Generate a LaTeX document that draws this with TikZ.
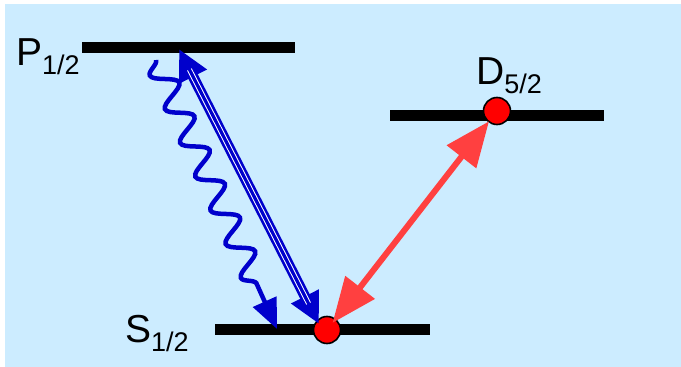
\documentclass[tikz,border=0pt]{standalone}
\usepackage{fontspec}
\setmainfont{Liberation Sans}
\usetikzlibrary{arrows.meta,decorations.pathmorphing}

\definecolor{skyblue}{RGB}{204,236,255}
\definecolor{laserblue}{RGB}{0,0,204}
\definecolor{laserred}{RGB}{255,64,64}
\definecolor{ionred}{RGB}{255,0,0}

\newcommand{\lvl}[2]{#1\raisebox{-9pt}{\fontsize{27}{27}\selectfont #2}}

\begin{document}
\begin{tikzpicture}[
  x=1pt, y=-1pt,
  level/.style={draw=black, line width=11pt},
  lbl/.style={font=\fontsize{39}{39}\selectfont, anchor=base west, inner sep=0pt},
  ion/.style={circle, draw=black, line width=1.6pt, fill=ionred, minimum size=27pt, inner sep=0pt},
  redarrow/.style={draw=laserred, line width=6pt,
    {Triangle[length=45pt,width=36pt]}-{Triangle[length=45pt,width=36pt]}},
  pumparrow/.style={draw=laserblue, line width=10.5pt,
    {Triangle[length=31pt,width=29pt]}-{Triangle[length=31pt,width=29pt]}},
  wave/.style={draw=laserblue, line width=4.5pt, -{Triangle[length=30pt,width=25pt]},
    decorate, decoration={snake, mirror, amplitude=12pt, segment length=37pt, post length=32pt}}
]

% Background
\useasboundingbox (0,0) rectangle (681,367);
\fill[skyblue] (5,4) rectangle (681,367);

% Levels
\coordinate (P-w) at (82,47);
\coordinate (P-e) at (295,47);
\coordinate (D-w) at (390,115);
\coordinate (D-e) at (604,115);
\coordinate (S-w) at (215,329);
\coordinate (S-e) at (430,329);

\draw[level] (P-w) -- (P-e);
\draw[level] (D-w) -- (D-e);
\draw[level] (S-w) -- (S-e);

% Labels
\node[lbl] (P-lbl) at (16,65) {\lvl{P}{1/2}};
\node[lbl] (D-lbl) at (476,84) {\lvl{D}{5/2}};
\node[lbl] (S-lbl) at (125,342) {\lvl{S}{1/2}};

% Ions
\node[ion] (ionS) at (327,330) {};
\node[ion] (ionD) at (497,111) {};

% Transitions
\coordinate (pump-top) at (179,49);
\coordinate (pump-bot) at (319,324);
\coordinate (wave-top) at (156,60);
\coordinate (wave-bot) at (277,329);

\draw[wave] (wave-top) -- (wave-bot);

\draw[pumparrow] (pump-top) -- (pump-bot);
\draw[white, line width=5.2pt, shorten <=23pt, shorten >=23pt] (pump-top) -- (pump-bot);
\draw[laserblue, line width=3.2pt, shorten <=21pt, shorten >=21pt] (pump-top) -- (pump-bot);

\draw[redarrow, shorten <=13pt, shorten >=9pt] (ionD.center) -- (ionS.center);

\end{tikzpicture}
\end{document}
